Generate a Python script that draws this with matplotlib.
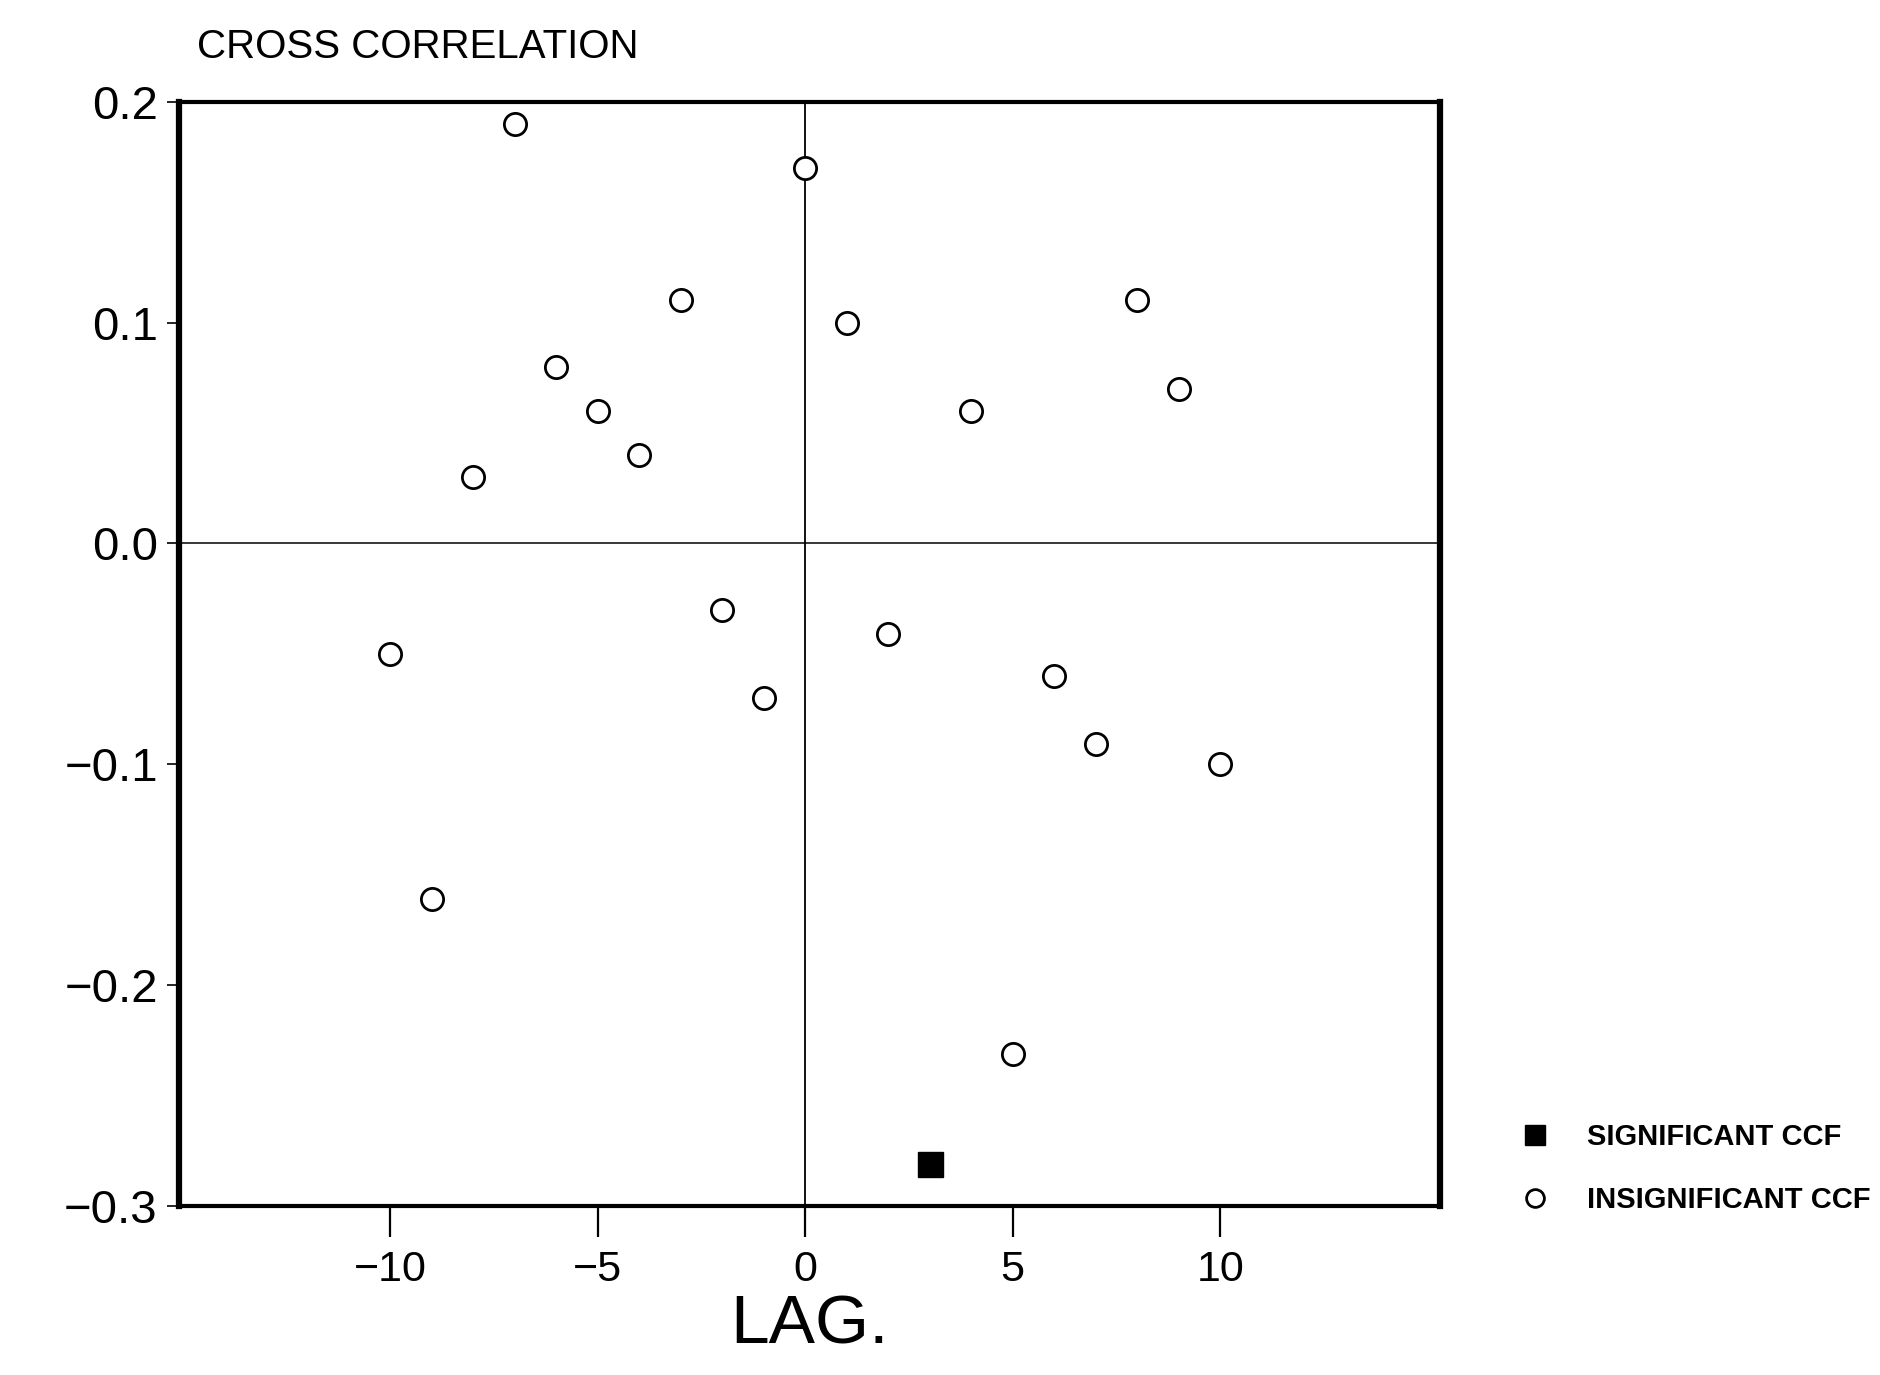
import matplotlib
matplotlib.use("Agg")
import matplotlib.pyplot as plt

# cross correlation by lag
lags = [-10, -9, -8, -7, -6, -5, -4, -3, -2, -1, 0, 1, 2, 3, 4, 5, 6, 7, 8, 9, 10]
ccf = [-0.050, -0.161, 0.030, 0.190, 0.080, 0.060, 0.040, 0.110, -0.030, -0.070,
       0.170, 0.100, -0.041, -0.281, 0.060, -0.231, -0.060, -0.091, 0.110, 0.070, -0.100]
significant = [3]

x_ticks = [-10, -5, 0, 5, 10]
y_ticks = [-0.3, -0.2, -0.1, 0.0, 0.1, 0.2]

font = ["Liberation Sans", "DejaVu Sans"]

fig = plt.figure(figsize=(18.8, 13.75), dpi=100)
ax = fig.add_axes([0.095, 0.123, 0.671, 0.803])

sig_x = [l for l in lags if l in significant]
sig_y = [c for l, c in zip(lags, ccf) if l in significant]
ins_x = [l for l in lags if l not in significant]
ins_y = [c for l, c in zip(lags, ccf) if l not in significant]

ax.axhline(0, color="black", lw=1.1, zorder=1)
ax.axvline(0, color="black", lw=1.3, zorder=1)
ax.plot(ins_x, ins_y, "o", ms=16, mfc="white", mec="black", mew=2.0,
        ls="none", label="INSIGNIFICANT CCF", zorder=3)
ax.plot(sig_x, sig_y, "s", ms=18, mfc="black", mec="black",
        ls="none", label="SIGNIFICANT CCF", zorder=3)

ax.set_xlim(-15.1, 15.3)
ax.set_ylim(-0.3, 0.2)
ax.set_xticks(x_ticks)
ax.set_xticklabels(["\u2212" + str(-t) if t < 0 else str(t) for t in x_ticks],
                   family=font, fontsize=31)
ax.set_yticks(y_ticks)
ax.set_yticklabels(["\u2212%.1f" % -t if t < 0 else "%.1f" % t for t in y_ticks],
                   family=font, fontsize=34)
ax.tick_params(axis="x", direction="out", length=22, width=1.6, pad=10)
ax.tick_params(axis="y", direction="out", length=9, width=1.2, pad=6)

for side in ["left", "right"]:
    ax.spines[side].set_linewidth(4.5)
for side in ["top", "bottom"]:
    ax.spines[side].set_linewidth(3.0)

ax.set_xlabel("LAG.", family=font, fontsize=50, labelpad=2)
fig.text(0.105, 0.958, "CROSS CORRELATION", family=font, fontsize=29,
         ha="left", va="baseline")

handles, labels = ax.get_legend_handles_labels()
fig.legend(handles[::-1], labels[::-1], loc="center left",
           bbox_to_anchor=(0.787, 0.150), frameon=False,
           prop={"family": font, "size": 21, "weight": "bold"},
           handletextpad=0.8, labelspacing=1.2, markerscale=0.8)

fig.savefig("out.png", dpi=100)
